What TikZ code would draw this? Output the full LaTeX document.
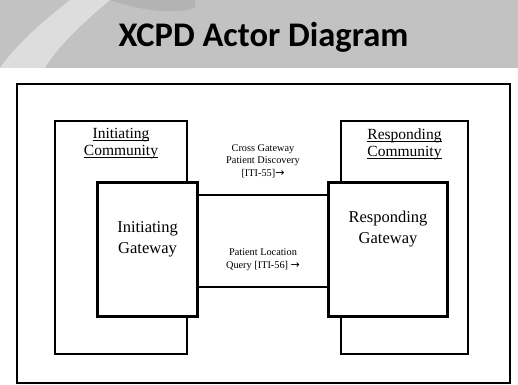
\documentclass[tikz,border=0pt]{standalone}
\usepackage{fontspec}
\setmainfont{Liberation Serif}
\newfontfamily\titlefont{Carlito}
\newfontfamily\arrowfont{DejaVu Sans}
% underline drawn just below the baseline
\newcommand\ulword[1]{\setbox0\hbox{#1}\rlap{\rule[-2pt]{\wd0}{0.7pt}}\box0}
\newcommand\rarr{{\arrowfont\fontsize{11}{11}\selectfont →}}
\begin{document}
\begin{tikzpicture}[x=1pt,y=-1pt,
  box/.style={draw=black, line width=1.1pt, inner sep=0pt, outer sep=0pt, anchor=north west},
  gateway/.style={draw=black, line width=3pt, inner sep=0pt, outer sep=0pt, anchor=north west},
  bigtext/.style={font=\fontsize{16.5}{21}\selectfont, align=center, inner sep=0pt},
  commtext/.style={font=\fontsize{15.5}{17}\selectfont, align=center, inner sep=0pt},
  smalltext/.style={font=\fontsize{10.3}{12.5}\selectfont, align=center, inner sep=0pt}]
\useasboundingbox (0,0) rectangle (518,384);
% title banner
\fill[black!24] (0,0) rectangle (518,68);
\fill[white, opacity=0.45] (0,68) .. controls (20,40) and (45,20) .. (70,0) -- (110,0)
  .. controls (80,25) and (55,50) .. (45,68) -- cycle;
\fill[black!40, opacity=0.35] (110,0) .. controls (140,10) and (170,15) .. (195,8) -- (195,0) -- cycle;
\node[font=\titlefont\bfseries\fontsize{34.5}{36}\selectfont, inner sep=0pt] (title) at (263.5,37) {XCPD Actor Diagram};
% frame
\node[box, minimum width=493pt, minimum height=299pt] (frame) at (17,84) {};
% communities
\node[box, minimum width=132pt, minimum height=233pt] (icomm) at (55,121) {};
\node[box, minimum width=127pt, minimum height=233pt] (rcomm) at (341,121) {};
% transaction area between gateways
\node[draw=black, line width=1.6pt, inner sep=0pt, outer sep=0pt, anchor=north west,
  minimum width=130pt, minimum height=92pt] (link) at (198,195) {};
% gateways
\node[gateway, fill=white, minimum width=100pt, minimum height=134pt] (igw) at (97.5,182) {};
\node[gateway, fill=white, minimum width=119pt, minimum height=134pt] (rgw) at (328.5,182) {};
% labels
\node[commtext] (icommlbl) at (121,144) {\ulword{Initiating}\\\ulword{Community}};
\node[commtext] (rcommlbl) at (404.5,144) {\ulword{Responding}\\\ulword{Community}};
\node[bigtext] (igwlbl) at (147.5,239) {Initiating\\Gateway};
\node[bigtext] (rgwlbl) at (388,229) {Responding\\Gateway};
\node[smalltext] (xcpd) at (263,161) {Cross Gateway\\Patient Discovery\\{}[ITI-55]\rarr};
\node[smalltext] (plq) at (263,259.5) {Patient Location\\Query [ITI-56] \rarr};
\end{tikzpicture}
\end{document}
